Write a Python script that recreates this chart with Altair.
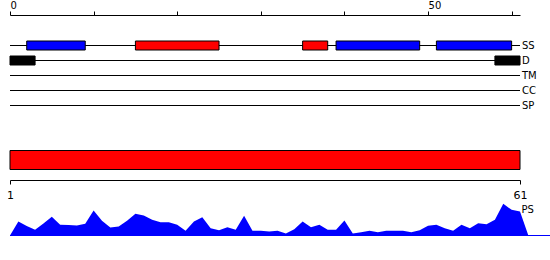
import altair as alt
import pandas as pd

# ---- data ----
rows = ["SS", "D", "TM", "CC", "SP"]
seq_start, seq_end = 0, 61

ss_start = [2, 15, 35, 39, 51]
ss_end = [9, 25, 38, 49, 60]
ss_kind = ["E", "H", "H", "E", "E"]

d_start = [0, 58]
d_end = [3, 61]

region_start = [1]
region_end = [61]

top_ticks = [0, 10, 20, 30, 40, 50, 60]
top_labelled = [0, 50]
bottom_ticks = [1, 61]

ps_pos = list(range(63))
ps_vals = [0, .233, .158, .095, .2, .312, .178, .175, .167, .195, .417, .245, .133,
           .15, .245, .362, .333, .262, .222, .222, .178, .078, .233, .305, .122,
           .088, .138, .095, .328, .078, .078, .067, .078, .033, .105, .233, .138,
           .178, .095, .095, .25, .033, .055, .078, .055, .078, .078, .078, .055,
           .088, .162, .178, .122, .078, .178, .122, .205, .188, .262, .528, .428,
           .4, 0]

FONT = "DejaVu Sans"

# ---- scales / axes ----
xs_top = alt.Scale(domain=[seq_start, seq_end], nice=False, zero=False)
xs_bot = alt.Scale(domain=[region_start[0], region_end[0]], nice=False, zero=False)
ys_rows = alt.Scale(type="point", domain=rows, range=[30.5, 90.5], padding=0)
ys_ps = alt.Scale(domain=[0, 1], range=[220.5, 160.5], nice=False)

lab = " || ".join(f"datum.value == {v}" for v in top_labelled)
top_axis = alt.Axis(orient="top", values=top_ticks, tickSize=4, labelPadding=1,
                    labelFontSize=10, labelAlign="left", labelFlush=False,
                    labelExpr=f"({lab}) ? datum.label : ''", grid=False, title=None,
                    domain=True, ticks=True,
                    domainColor="black", tickColor="black", labelColor="black",
                    labelFont=FONT)
rows_axis = alt.Axis(orient="right", domain=False, ticks=False, labelPadding=1.5,
                     labelFontSize=10, labelColor="black", title=None, labelFont=FONT)
bottom_axis = alt.Axis(orient="bottom", values=bottom_ticks, tickSize=4, labelPadding=5,
                       labelFontSize=11, labelAlign="center", labelFlush=False,
                       domain=True, ticks=True,
                       grid=False, title=None, domainColor="black", tickColor="black",
                       labelColor="black", labelFont=FONT)

# ---- tables ----
rows_df = pd.DataFrame({"row": rows, "start": seq_start, "end": seq_end})
ss_df = pd.DataFrame({"row": "SS", "start": ss_start, "end": ss_end, "kind": ss_kind})
d_df = pd.DataFrame({"row": "D", "start": d_start, "end": d_end})
ps_df = pd.DataFrame({"start": ps_pos, "ps": ps_vals})
base_df = pd.DataFrame({"start": [ps_pos[0]], "ps": [0]})
ps_lab_df = pd.DataFrame({"start": [seq_end], "label": ["PS"]})
region_df = pd.DataFrame({"start": region_start, "end": region_end})

X = lambda: alt.X("start:Q", scale=xs_top, axis=top_axis)
Yr = lambda: alt.Y("row:N", scale=ys_rows, axis=rows_axis)
Yp = lambda: alt.Y("ps:Q", scale=ys_ps, axis=None)

rules = alt.Chart(rows_df).mark_rule(color="black", strokeWidth=1).encode(
    x=X(), x2="end:Q", y=Yr())
ss_bars = alt.Chart(ss_df).mark_bar(size=9, stroke="black", strokeWidth=1,
                                    orient="horizontal").encode(
    x=X(), x2="end:Q", y=Yr(),
    color=alt.Color("kind:N", scale=alt.Scale(domain=["E", "H"],
                                              range=["#0000ff", "#ff0000"]),
                    legend=None))
d_bars = alt.Chart(d_df).mark_bar(size=9, color="black", stroke="black", strokeWidth=1,
                                  orient="horizontal").encode(
    x=X(), x2="end:Q", y=Yr())
main = alt.layer(rules, ss_bars, d_bars)

area = alt.Chart(ps_df).mark_area(color="#0000ff", interpolate="linear").encode(
    x=X(), y=Yp())
base_rule = alt.Chart(base_df).mark_rule(color="#0000ff", strokeWidth=1).encode(
    x=X(), x2=alt.value(540), y=Yp())
ps_label = alt.Chart(ps_lab_df).mark_text(align="left", baseline="middle", dx=1.5,
                                          fontSize=10, font=FONT, color="black").encode(
    x=X(), y=alt.value(195), text="label:N")
ps_layer = alt.layer(area, base_rule, ps_label)

inner = alt.layer(main, ps_layer).resolve_scale(y="independent")

region = alt.Chart(region_df).mark_rect(color="#ff0000", stroke="black",
                                        strokeWidth=1).encode(
    x=alt.X("start:Q", scale=xs_bot, axis=bottom_axis), x2="end:Q",
    y=alt.value(135.5), y2=alt.value(154.5))

chart = alt.layer(inner, region).resolve_scale(x="independent", y="independent").properties(
    width=510, height=165,
    padding={"left": 10, "top": 15, "right": 30, "bottom": 80},
    autosize=alt.AutoSizeParams(type="none"),
    background="white",
).configure(font=FONT).configure_view(stroke=None, strokeWidth=0).configure_axis(
    grid=False)

chart.save("out.html", embed_options={"renderer": "svg", "actions": False})
